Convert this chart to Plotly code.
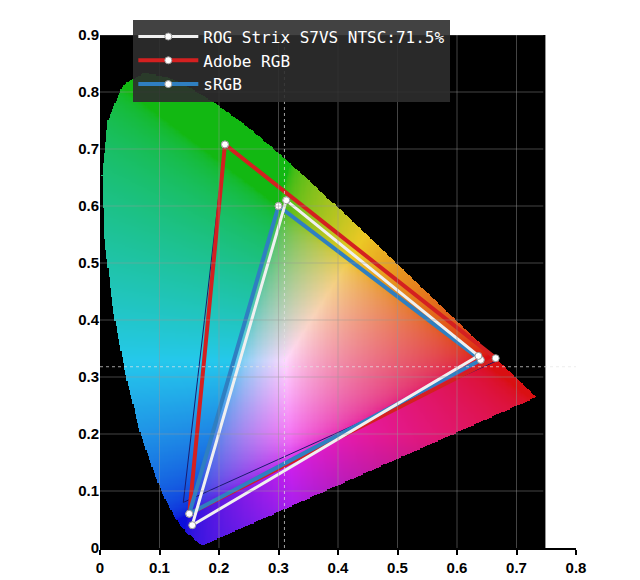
import numpy as np
import plotly.graph_objects as go

# CIE 1931 spectral locus (x, y)
locus_x = [0.1741, 0.1733, 0.1714, 0.1644, 0.1566, 0.1440, 0.1355, 0.1241, 0.1096, 0.0913,
           0.0687, 0.0454, 0.0235, 0.0082, 0.0039, 0.0139, 0.0389, 0.0743, 0.1142, 0.1547,
           0.1929, 0.2296, 0.2658, 0.3016, 0.3373, 0.3731, 0.4087, 0.4441, 0.4788, 0.5125,
           0.5448, 0.5752, 0.6029, 0.6270, 0.6658, 0.6915, 0.7190, 0.7347]
locus_y = [0.0050, 0.0048, 0.0051, 0.0109, 0.0177, 0.0297, 0.0399, 0.0578, 0.0868, 0.1327,
           0.2007, 0.2950, 0.4127, 0.5384, 0.6548, 0.7502, 0.8120, 0.8338, 0.8262, 0.8059,
           0.7816, 0.7543, 0.7243, 0.6923, 0.6589, 0.6245, 0.5896, 0.5547, 0.5202, 0.4866,
           0.4544, 0.4242, 0.3965, 0.3725, 0.3340, 0.3083, 0.2809, 0.2653]

rog_x = [0.313, 0.636, 0.155, 0.313]
rog_y = [0.610, 0.337, 0.040, 0.610]
adobe_x = [0.210, 0.665, 0.150, 0.210]
adobe_y = [0.708, 0.333, 0.060, 0.708]
srgb_x = [0.300, 0.640, 0.150, 0.300]
srgb_y = [0.600, 0.330, 0.060, 0.600]
ntsc_x = [0.210, 0.670, 0.140, 0.210]
ntsc_y = [0.710, 0.330, 0.080, 0.710]

ticks = [0, 0.1, 0.2, 0.3, 0.4, 0.5, 0.6, 0.7, 0.8, 0.9]

# colour the gamut area
step = 0.002
gx = np.arange(0, 0.75, step)
gy = np.arange(0, 0.91, step)
X, Y = np.meshgrid(gx, gy)
px, py = np.array(locus_x), np.array(locus_y)
inside = np.zeros(X.shape, dtype=bool)
j = len(px) - 1
for i in range(len(px)):
    cond = ((py[i] > Y) != (py[j] > Y)) & (X < (px[j] - px[i]) * (Y - py[i]) / (py[j] - py[i] + 1e-12) + px[i])
    inside ^= cond
    j = i
Ys = np.maximum(Y, 1e-4)
XX = X / Ys
ZZ = (1 - X - Y) / Ys
M = np.array([[3.2406, -1.5372, -0.4986], [-0.9689, 1.8758, 0.0415], [0.0557, -0.2040, 1.0570]])
rgb = np.stack([XX, np.ones_like(XX), ZZ], axis=-1) @ M.T
rgb = np.clip(rgb, 0, None)
rgb = rgb / np.maximum(rgb.max(axis=-1, keepdims=True), 1e-9)
rgb = np.where(rgb <= 0.0031308, 12.92 * rgb, 1.055 * rgb ** (1 / 2.4) - 0.055)
rgb = np.clip(rgb, 0, 1)
# tone it down toward the printed look
lum = rgb.mean(axis=-1, keepdims=True)
rgb = 0.78 * rgb + 0.22 * lum
rgb[..., 1] *= 0.85
rgb[..., 0] = np.where(Y < 0.2, rgb[..., 0] * (0.55 + 2.25 * np.clip(Y, 0, 0.2)), rgb[..., 0])
img = (np.clip(rgb, 0, 1) * 255).astype(np.uint8)
img[~inside] = 0

fig = go.Figure()
fig.add_trace(go.Image(z=img, x0=0, dx=step, y0=0, dy=step, hoverinfo="skip"))

mk = dict(color="white", size=7, line=dict(color="#999", width=1))
fig.add_trace(go.Scatter(x=ntsc_x, y=ntsc_y, mode="lines", line=dict(color="#1a1a6e", width=1), showlegend=False))
fig.add_trace(go.Scatter(x=adobe_x, y=adobe_y, mode="lines+markers", name="Adobe RGB", legendrank=2,
                         line=dict(color="#d42020", width=4), marker=mk))
fig.add_trace(go.Scatter(x=srgb_x, y=srgb_y, mode="lines+markers", name="sRGB", legendrank=3,
                         line=dict(color="#2f7fc1", width=4), marker=mk))
fig.add_trace(go.Scatter(x=rog_x, y=rog_y, mode="lines+markers", name="ROG Strix S7VS NTSC:71.5%", legendrank=1,
                         line=dict(color="#f0f0f0", width=3), marker=mk))

shapes = [dict(type="rect", xref="x", yref="y", x0=0, x1=0.745, y0=0, y1=0.92,
               fillcolor="black", line_width=0, layer="below")]
for t in ticks[1:]:
    if t < 0.75:
        shapes.append(dict(type="line", xref="x", yref="y", x0=t, x1=t, y0=0, y1=0.92,
                           line=dict(color="rgba(150,150,150,0.45)", width=1), layer="above"))
    shapes.append(dict(type="line", xref="x", yref="y", x0=0, x1=0.745, y0=t, y1=t,
                       line=dict(color="rgba(150,150,150,0.45)", width=1), layer="above"))
shapes.append(dict(type="line", xref="x", yref="y", x0=0.31, x1=0.31, y0=0, y1=0.92,
                   line=dict(color="rgba(230,230,230,0.7)", width=1, dash="dot"), layer="above"))
shapes.append(dict(type="line", xref="x", yref="y", x0=0, x1=0.8, y0=0.318, y1=0.318,
                   line=dict(color="rgba(230,230,230,0.7)", width=1, dash="dot"), layer="above"))

tick_font = dict(size=15, color="black", family="Liberation Sans")
fig.update_layout(
    width=640, height=580,
    margin=dict(l=92, r=72, t=12, b=34),
    paper_bgcolor="white", plot_bgcolor="white",
    shapes=shapes,
    legend=dict(x=0.07, y=1.03, xanchor="left", yanchor="top",
                bgcolor="rgba(45,45,45,0.9)", font=dict(color="white", size=16, family="DejaVu Sans Mono"),
                itemwidth=60),
    xaxis=dict(range=[0, 0.8], tickvals=ticks[:9], ticktext=["<b>0</b>"] + ["<b>%s</b>" % t for t in ticks[1:9]],
               showgrid=False, zeroline=False, showline=True, linecolor="black", linewidth=2,
               ticks="outside", tickcolor="black", ticklen=5, tickwidth=2, constrain="range",
               tickfont=tick_font),
    yaxis=dict(range=[0, 0.9], tickvals=ticks, ticktext=["<b>0</b>"] + ["<b>%s</b>" % t for t in ticks[1:]],
               showgrid=False, zeroline=False, showline=False, autorange=False, scaleanchor=False,
               tickfont=tick_font),
)
fig.write_html("out.html")
